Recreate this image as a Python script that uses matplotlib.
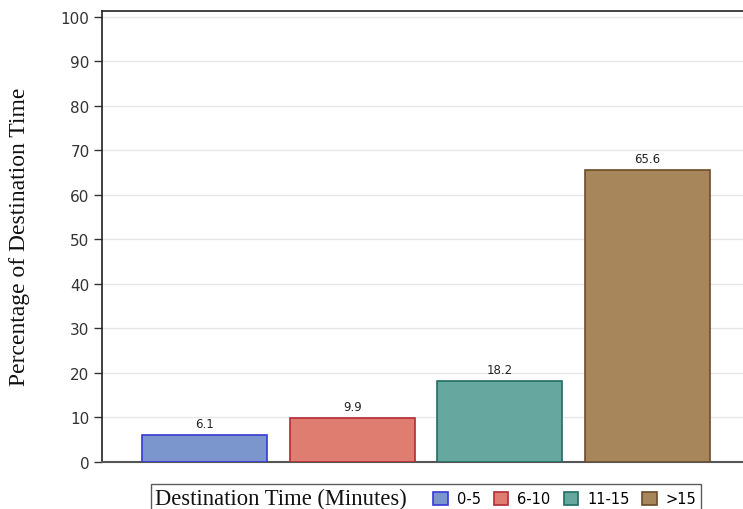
import matplotlib
matplotlib.use("Agg")
import matplotlib.pyplot as plt
from matplotlib.patches import Patch
from matplotlib.offsetbox import HPacker

categories = ["0-5", "6-10", "11-15", ">15"]
values = [6.1, 9.9, 18.2, 65.6]
face_colors = ["#7b96cc", "#df7e70", "#66a8a0", "#a8865c"]
edge_colors = ["#3838d8", "#b52a35", "#1f6e62", "#6e4c28"]
yticks = [0, 10, 20, 30, 40, 50, 60, 70, 80, 90, 100]
ylabel = "Percentage of Destination Time"
legend_title = "Destination Time (Minutes)"

fig = plt.figure(figsize=(7.43, 5.10), dpi=100)
ax = fig.add_axes([102/743, 47/510, (750-102)/743, (463-12)/510])

x = list(range(len(categories)))
bars = ax.bar(x, values, width=0.847, color=face_colors, edgecolor=edge_colors,
              linewidth=1.2, zorder=3)
for b, v in zip(bars, values):
    ax.annotate(f"{v:.1f}", (b.get_x() + b.get_width()/2, v), xytext=(0, 3.5),
                textcoords="offset points", ha="center", va="bottom",
                fontsize=8.5, color="#222222", family="DejaVu Sans")

ax.set_xlim(-0.695, 3.695)
ax.set_ylim(0, 101.3)
ax.set_yticks(yticks)
ax.set_yticklabels([str(t) for t in yticks], fontsize=11, color="#333333")
ax.set_xticks([])
ax.tick_params(axis="y", length=6, width=1, color="#333333", pad=3)
ax.yaxis.grid(True, color="#e6e6e6", linewidth=1, zorder=0)
ax.set_axisbelow(True)
for s in ["left", "top"]:
    ax.spines[s].set_color("#222222")
    ax.spines[s].set_linewidth(1.2)
ax.spines["bottom"].set_color("#555555")
ax.spines["bottom"].set_linewidth(1.5)
ax.spines["right"].set_visible(False)

fig.text(20/743, 1 - 237/510, ylabel, rotation=90, ha="center", va="center",
         fontsize=17, family="Liberation Serif", color="#111111")

handles = [Patch(facecolor=fc, edgecolor=ec, linewidth=1.2) for fc, ec in zip(face_colors, edge_colors)]
leg = fig.legend(handles, categories, loc="upper center",
                 bbox_to_anchor=(426/743, 1 - 485/510), ncol=4,
                 title=legend_title, frameon=True, fancybox=False,
                 edgecolor="#333333", fontsize=10.5, handlelength=1.0,
                 handleheight=1.0, handletextpad=0.6, columnspacing=0.9,
                 borderpad=0.3, borderaxespad=0.0)
leg.get_frame().set_linewidth(1.0)
leg.get_title().set_fontfamily("Liberation Serif")
leg.get_title().set_fontsize(16.3)
leg.get_title().set_color("#111111")
fs = leg._fontsize
leg._legend_box = HPacker(pad=leg.borderpad * fs, sep=1.8 * fs, align="center",
                          children=[leg._legend_title_box, leg._legend_handle_box])
leg._legend_box.set_figure(fig)
leg._set_loc(leg._loc)

fig.savefig("out.png", dpi=100)
